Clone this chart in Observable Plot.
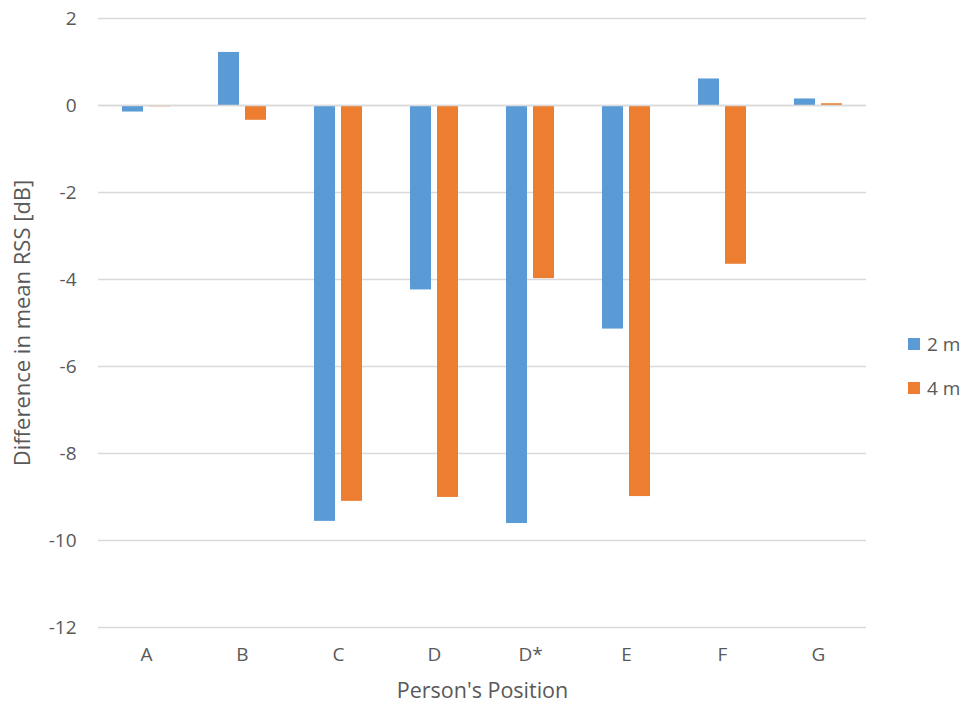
<!DOCTYPE html>
<html>
<head>
<meta charset="utf-8">
<script src="https://cdn.jsdelivr.net/npm/d3@7"></script>
<script src="https://cdn.jsdelivr.net/npm/@observablehq/plot@0.6"></script>
<style>
  html, body { margin: 0; padding: 0; background: #fff; }
  #wrap { position: relative; width: 970px; height: 708px; font-family: "Open Sans", sans-serif; color: #595959; }
  .legend { position: absolute; left: 908px; display: flex; align-items: center; font-size: 19px; }
  .legend .sw { width: 12px; height: 12px; margin-right: 7px; }
</style>
</head>
<body>
<div id="wrap"></div>
<script>
const categories = ["A", "B", "C", "D", "D*", "E", "F", "G"];
const series = ["2 m", "4 m"];
const values2m = [-0.15, 1.22, -9.56, -4.24, -9.61, -5.14, 0.61, 0.15];
const values4m = [-0.03, -0.34, -9.10, -9.01, -3.98, -8.99, -3.65, 0.04];
const colors = ["#5B9BD5", "#ED7D31"];
const yTicks = [2, 0, -2, -4, -6, -8, -10, -12];
const xLabel = "Person's Position";
const yLabel = "Difference in mean RSS [dB]";

const data2 = categories.map((c, i) => ({category: c, series: series[0], value: values2m[i]}));
const data4 = categories.map((c, i) => ({category: c, series: series[1], value: values4m[i]}));

const chart = Plot.plot({
  width: 970,
  height: 708,
  marginLeft: 98,
  marginRight: 104,
  marginTop: 18,
  marginBottom: 81,
  style: {fontFamily: "Open Sans, sans-serif", fontSize: "19px", color: "#595959", background: "#fff"},
  x: {domain: categories, padding: 0},
  y: {domain: [-12, 2]},
  marks: [
    Plot.gridY(yTicks, {stroke: "#d9d9d9", strokeOpacity: 1, strokeWidth: 1.3}),
    Plot.barY(data2, {x: "category", y: "value", fill: colors[0], insetLeft: 24, insetRight: 51}),
    Plot.barY(data4, {x: "category", y: "value", fill: colors[1], insetLeft: 51, insetRight: 24}),
    Plot.ruleY([0], {stroke: "#d9d9d9", strokeWidth: 1.5}),
    Plot.axisY(yTicks, {tickSize: 0, tickPadding: 22, label: null, fill: "#595959", fontSize: 19, tickFormat: d => String(d)}),
    Plot.axisX({tickSize: 0, tickPadding: 20, label: null, fill: "#595959", fontSize: 19}),
    Plot.text([yLabel], {text: d => d, frameAnchor: "left", textAnchor: "middle", rotate: -90, dx: -76, fontSize: 22, fill: "#595959"}),
    Plot.text([xLabel], {text: d => d, frameAnchor: "bottom", textAnchor: "middle", dy: 70, fontSize: 21.5, fill: "#595959"})
  ]
});

const wrap = document.getElementById("wrap");
wrap.appendChild(chart);
series.forEach((s, i) => {
  const el = document.createElement("div");
  el.className = "legend";
  el.style.top = (331 + i * 44) + "px";
  el.innerHTML = `<div class="sw" style="background:${colors[i]}"></div><span>${s}</span>`;
  wrap.appendChild(el);
});
</script>
</body>
</html>
